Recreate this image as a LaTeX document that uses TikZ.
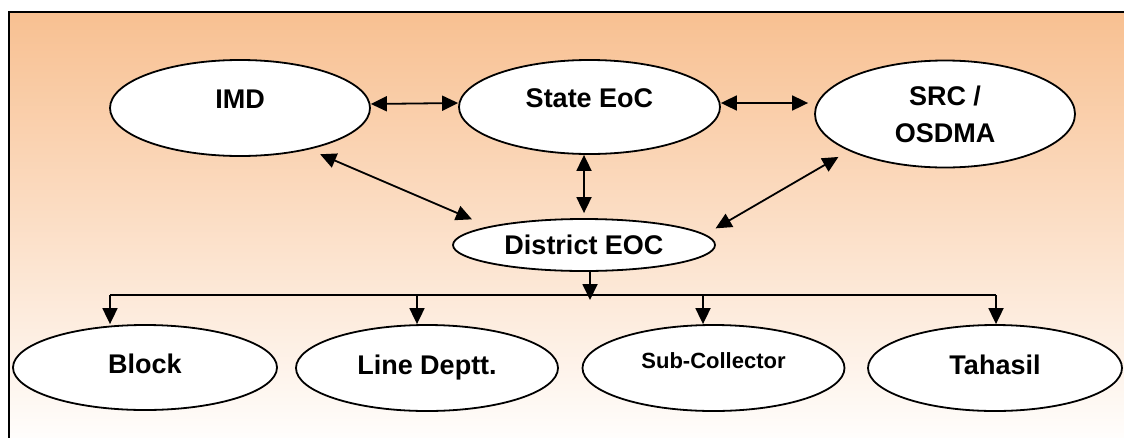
\documentclass[tikz,border=0pt]{standalone}
\usepackage{fontspec}
\setmainfont{Liberation Sans}
\usepackage{tikz}
\usetikzlibrary{shapes.geometric, arrows.meta, positioning}
\definecolor{eocpeach}{RGB}{248, 192, 145}

\begin{document}
\begin{tikzpicture}[
  x=1pt, y=-1pt,
  oval/.style={
    ellipse, draw, fill=white, line width=1.8pt,
    inner sep=0pt, align=center,
    font=\fontsize{27}{37}\selectfont\bfseries
  },
  lowoval/.style={oval, minimum width=262pt, minimum height=86pt,
    text height=20pt, text depth=8pt},
  arrow/.style={-{Triangle[length=16pt, width=15pt]}, line width=1.8pt},
  biarrow/.style={{Triangle[length=16pt, width=15pt]}-{Triangle[length=16pt, width=15pt]}, line width=1.8pt}
]
  \useasboundingbox (0,0) rectangle (1124,437);
  \clip (0,0) rectangle (1124,437);
  % background panel
  \fill[top color=eocpeach, bottom color=white] (9,12) rectangle (1140,450);
  \draw[line width=1.6pt] (9,450) -- (9,12) -- (1140,12);

  \node[oval, minimum width=260pt, minimum height=96pt, text height=20pt, text depth=20pt] (imd) at (240,108) {IMD};
  \node[oval, minimum width=261pt, minimum height=94pt, text height=20pt, text depth=20pt] (state) at (589.5,107) {State EoC};
  \node[oval, minimum width=260pt, minimum height=107pt] (src) at (945,114) {SRC /\\OSDMA};
  \node[oval, minimum width=262pt, minimum height=52pt] (district) at (584,245) {District EOC};

  \node[lowoval, minimum width=264pt, minimum height=85pt] (block) at (145,367.5) {Block};
  \node[lowoval] (linedeptt) at (427,368) {Line Deptt.};
  \node[lowoval, font=\fontsize{22}{26}\selectfont\bfseries, text height=16pt, text depth=16pt] (subcoll) at (713.5,368) {Sub-Collector};
  \node[lowoval, minimum width=254pt] (tahasil) at (995,368) {Tahasil};

  \draw[biarrow] ([yshift=4pt]imd.east) -- ([yshift=4pt]state.west);
  \draw[biarrow, shorten >=6pt] ([yshift=4pt]state.east) -- ([yshift=4pt]state.east -| src.west);
  \draw[biarrow, shorten <=5pt] (district.north) -- (district.north |- state.south);
  \draw[biarrow, shorten <=12pt, shorten >=18pt] (imd.-31) -- (district.169);
  \draw[biarrow, shorten <=12pt, shorten >=12pt] (src.-159) -- (district.5);

  % branches
  \coordinate (bus) at (590,300);
  \coordinate (busl) at (110,295);
  \coordinate (busr) at (996,295);
  \draw[arrow] (district.south -| bus) -- (bus);
  \draw[line width=1.8pt] (busl) -- (busr);
  \foreach \n/\x in {block/110, linedeptt/417, subcoll/703, tahasil/996}{
    \coordinate (drop) at (\x,295);
    \draw[arrow] (drop) -- (drop |- \n.north);
  }
\end{tikzpicture}
\end{document}
